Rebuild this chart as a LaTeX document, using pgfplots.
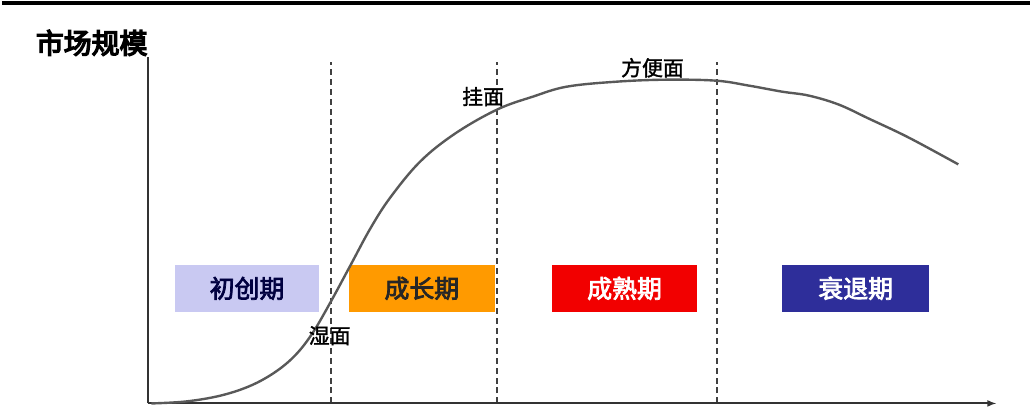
\documentclass[border=0pt]{standalone}
\usepackage{pgfplots}
\pgfplotsset{compat=1.18}
\usepackage{fontspec}
\setmainfont{Noto Sans CJK SC}
\newfontfamily\tcjk{Noto Sans CJK SC}[FakeBold=5]
\newfontfamily\bcjk{Noto Sans CJK SC}[FakeBold=3]
\newfontfamily\mcjk{Noto Sans CJK SC}[FakeBold=1.5]
\definecolor{lav}{HTML}{C9C9F2}
\definecolor{org}{HTML}{FF9A00}
\definecolor{rd}{HTML}{F20000}
\definecolor{nv}{HTML}{2E2E9A}
\begin{document}
\begin{tikzpicture}
\begin{axis}[
  x=1pt, y=1pt, scale only axis,
  xmin=0, xmax=1032, ymin=0, ymax=414,
  hide axis, clip=false,
]
\path (axis cs:0,0) rectangle (axis cs:1032,414);
% top rule
\draw[black, line width=4pt] (axis cs:0,411) -- (axis cs:1032,411);
% title
\node[font=\fontsize{28}{30}\selectfont\tcjk] at (axis cs:90,371) {市场规模};
% boxes
\fill[lav] (axis cs:174,101) rectangle (axis cs:318,148);
\fill[org] (axis cs:348,101) rectangle (axis cs:495,148);
\fill[rd] (axis cs:552,101) rectangle (axis cs:698,148);
\fill[nv] (axis cs:783,101) rectangle (axis cs:931,148);
\node[font=\fontsize{25}{27}\selectfont\bcjk, text=black!75!blue] at (axis cs:246,124.5) {初创期};
\node[font=\fontsize{25}{27}\selectfont\bcjk, text=black!85] at (axis cs:421.5,124.5) {成长期};
\node[font=\fontsize{25}{27}\selectfont\bcjk, text=white] at (axis cs:625,124.5) {成熟期};
\node[font=\fontsize{25}{27}\selectfont\bcjk, text=white] at (axis cs:857,124.5) {衰退期};
% dashed lines
\draw[black!75, line width=1.6pt, dash pattern=on 6pt off 4pt] (axis cs:330,9) -- (axis cs:330,352);
\draw[black!75, line width=1.6pt, dash pattern=on 6pt off 4pt] (axis cs:497,9) -- (axis cs:497,352);
\draw[black!75, line width=1.6pt, dash pattern=on 6pt off 4pt] (axis cs:718,9) -- (axis cs:718,352);
% axes
\draw[black!80, line width=2pt] (axis cs:147,9) -- (axis cs:147,357);
\draw[black!80, line width=2pt, -latex] (axis cs:147,9) -- (axis cs:998,9);
% curve
\addplot[black!65, line width=2.4pt, smooth, tension=0.6] coordinates {
(150,9) (185,11) (220,17) (250,27) (275,41) (295,58) (312,80)
(330,111) (350,148) (370,185) (390,216) (420,252) (455,280) (497,304)
(533,317) (567,327) (617,332) (667,334) (717,333) (750,328) (783,322)
(810,318) (840,309) (870,295) (910,276) (960,249)};
% labels
\node[font=\fontsize{21}{23}\selectfont\mcjk] at (axis cs:329,77) {湿面};
\node[font=\fontsize{21}{23}\selectfont\mcjk] at (axis cs:483,317) {挂面};
\node[font=\fontsize{21}{23}\selectfont\mcjk] at (axis cs:653,346) {方便面};
\end{axis}
\end{tikzpicture}
\end{document}
